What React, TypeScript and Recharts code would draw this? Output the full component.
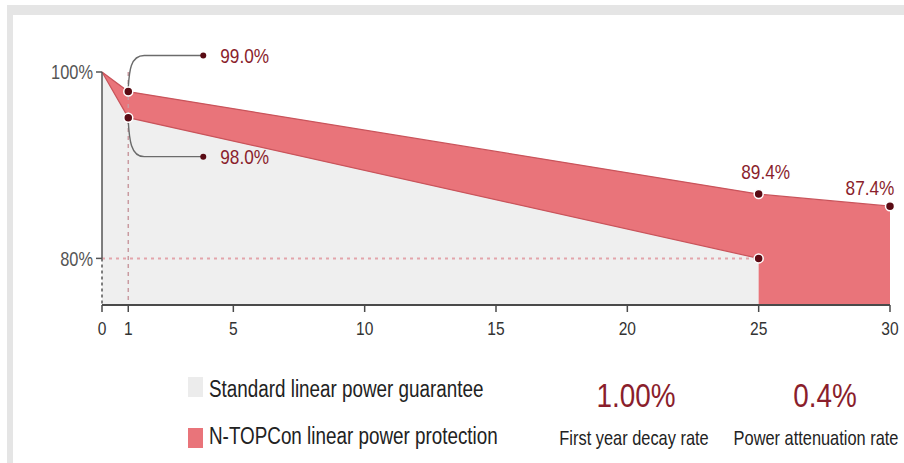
import React from "react";
import { ComposedChart, Area, XAxis, YAxis, ReferenceLine } from "recharts";

// values as drawn in the infographic (not to scale with the printed labels)
const years = [0, 1, 25, 30];
const standard = [100, 95.1, 80, null];
const topcon = [100, 97.9, 86.9, 85.6];
const standardLabels = ["", "98.0%", "", ""];
const topconLabels = ["", "99.0%", "89.4%", "87.4%"];
const xTicks = [0, 1, 5, 10, 15, 20, 25, 30];
const yTicks = [80, 100];
const seriesNames = ["Standard linear power guarantee", "N-TOPCon linear power protection"];
const rateValues = ["1.00%", "0.4%"];
const rateNames = ["First year decay rate", "Power attenuation rate"];

const FONT = "'Liberation Sans', Arial, sans-serif";
const SQUEEZE = 0.82; // the original uses a condensed face
const PINK = "#e9747a";
const PINK_EDGE = "#c9545b";
const GREY = "#efefef";
const DOT = "#5a0b14";
const RED_TEXT = "#8a1e2c";

const data = years.map((year, i) => ({
  year,
  standard: standard[i],
  topcon: topcon[i],
}));

function Narrow({
  x,
  y,
  size,
  fill,
  anchor = "start",
  dy,
  children,
}: {
  x: number;
  y: number;
  size: number;
  fill: string;
  anchor?: "start" | "middle" | "end";
  dy?: string;
  children: React.ReactNode;
}) {
  return (
    <g transform={`translate(${x},${y})`}>
      <text
        transform={`scale(${SQUEEZE},1)`}
        textAnchor={anchor}
        dy={dy}
        fontSize={size}
        fill={fill}
        fontFamily={FONT}
      >
        {children}
      </text>
    </g>
  );
}

const XTick = (props: any) => (
  <Narrow x={props.x} y={props.y} size={19} fill="#333" anchor="middle" dy="0.71em">
    {props.payload.value}
  </Narrow>
);

const YTick = (props: any) => (
  <Narrow x={props.x} y={props.y} size={20} fill="#555" anchor="end" dy="0.355em">
    {`${props.payload.value}%`}
  </Narrow>
);

function makeDot(series: "topcon" | "standard", labels: string[]) {
  return (props: any) => {
    const { cx, cy, index, payload } = props;
    const key = `${series}-${index}`;
    if (cx == null || cy == null || index === 0 || payload?.[series] == null) {
      return <g key={key} />;
    }
    const label = labels[index];
    let extra: React.ReactNode = null;
    if (label && index === 1) {
      // callout line bending out to the right
      const up = series === "topcon";
      const ty = up ? cy - 36 : cy + 39;
      const s = up ? -1 : 1;
      extra = (
        <g>
          <path
            d={`M${cx},${cy + s * 4} C${cx + 1},${cy + s * 20} ${cx + 2},${ty} ${cx + 16},${ty} L${cx + 75},${ty}`}
            fill="none"
            stroke="#6b6b6b"
            strokeWidth={1.4}
          />
          <circle cx={cx + 75} cy={ty} r={3} fill={DOT} />
          <Narrow x={cx + 92} y={ty} size={21} fill={RED_TEXT} dy="0.35em">
            {label}
          </Narrow>
        </g>
      );
    } else if (label) {
      const dx = index === 3 ? -20 : 7;
      const dy = index === 3 ? -11 : -15;
      extra = (
        <Narrow x={cx + dx} y={cy + dy} size={21} fill={RED_TEXT} anchor="middle">
          {label}
        </Narrow>
      );
    }
    return (
      <g key={key}>
        {extra}
        <circle cx={cx} cy={cy} r={4.5} fill={DOT} stroke="#fff" strokeWidth={1.5} />
      </g>
    );
  };
}

export default function App() {
  return (
    <div
      style={{
        position: "absolute",
        left: 0,
        top: 0,
        width: 904,
        height: 463,
        background: "#fff",
        overflow: "hidden",
      }}
    >
      <div style={{ position: "absolute", left: 7, top: 5, width: 897, height: 10, background: "#e5e5e5" }} />
      <div style={{ position: "absolute", left: 7, top: 5, width: 6, height: 458, background: "#e5e5e5" }} />

      <div style={{ position: "absolute", left: 0, top: 0 }}>
        <ComposedChart
          width={904}
          height={463}
          data={data}
          margin={{ top: 72, right: 14, bottom: 128, left: 0 }}
        >
          <XAxis
            dataKey="year"
            type="number"
            domain={[0, 30]}
            ticks={xTicks}
            interval={0}
            height={30}
            tickSize={7}
            tickMargin={10}
            axisLine={{ stroke: "#4a4a4a", strokeWidth: 2 }}
            tickLine={{ stroke: "#4a4a4a", strokeWidth: 1.5 }}
            tick={<XTick />}
          />
          <YAxis
            type="number"
            domain={[75, 100]}
            ticks={yTicks}
            width={102}
            axisLine={false}
            tickSize={6}
            tickMargin={3}
            tickLine={{ stroke: "#555", strokeWidth: 1.5 }}
            tick={<YTick />}
          />
          <Area
            dataKey="topcon"
            type="linear"
            fill={PINK}
            fillOpacity={1}
            stroke={PINK_EDGE}
            strokeWidth={1.2}
            baseValue={75}
            isAnimationActive={false}
            activeDot={false}
            dot={makeDot("topcon", topconLabels)}
          />
          <Area
            dataKey="standard"
            type="linear"
            fill={GREY}
            fillOpacity={1}
            stroke={PINK_EDGE}
            strokeWidth={1.2}
            baseValue={75}
            isAnimationActive={false}
            activeDot={false}
            dot={makeDot("standard", standardLabels)}
          />
          <ReferenceLine
            segment={[{ x: 0, y: 80 }, { x: 25, y: 80 }]}
            stroke="#e3a5ab"
            strokeWidth={2}
            strokeDasharray="3 4"
          />
          <ReferenceLine
            segment={[{ x: 1, y: 100 }, { x: 1, y: 75 }]}
            stroke="#c99aa0"
            strokeWidth={1.5}
            strokeDasharray="4 4"
          />
          <ReferenceLine segment={[{ x: 0, y: 100 }, { x: 0, y: 80 }]} stroke="#555" strokeWidth={1.5} />
          <ReferenceLine
            segment={[{ x: 0, y: 80 }, { x: 0, y: 75 }]}
            stroke="#555"
            strokeWidth={1.5}
            strokeDasharray="3 3"
          />
        </ComposedChart>
      </div>

      <svg
        width={904}
        height={463}
        style={{ position: "absolute", left: 0, top: 0, pointerEvents: "none" }}
      >
        <rect x={188} y={377} width={15} height={20} fill="#ececec" />
        <Narrow x={209} y={397} size={23} fill="#222">
          {seriesNames[0]}
        </Narrow>
        <rect x={188} y={428} width={15} height={20} fill={PINK} />
        <Narrow x={209} y={444} size={23} fill="#222">
          {seriesNames[1]}
        </Narrow>
        {rateValues.map((v, i) => (
          <g key={v}>
            <Narrow x={i === 0 ? 636 : 825} y={407} size={34} fill={RED_TEXT} anchor="middle">
              {v}
            </Narrow>
            <Narrow x={i === 0 ? 634 : 816} y={445} size={20} fill="#222" anchor="middle">
              {rateNames[i]}
            </Narrow>
          </g>
        ))}
      </svg>
    </div>
  );
}
